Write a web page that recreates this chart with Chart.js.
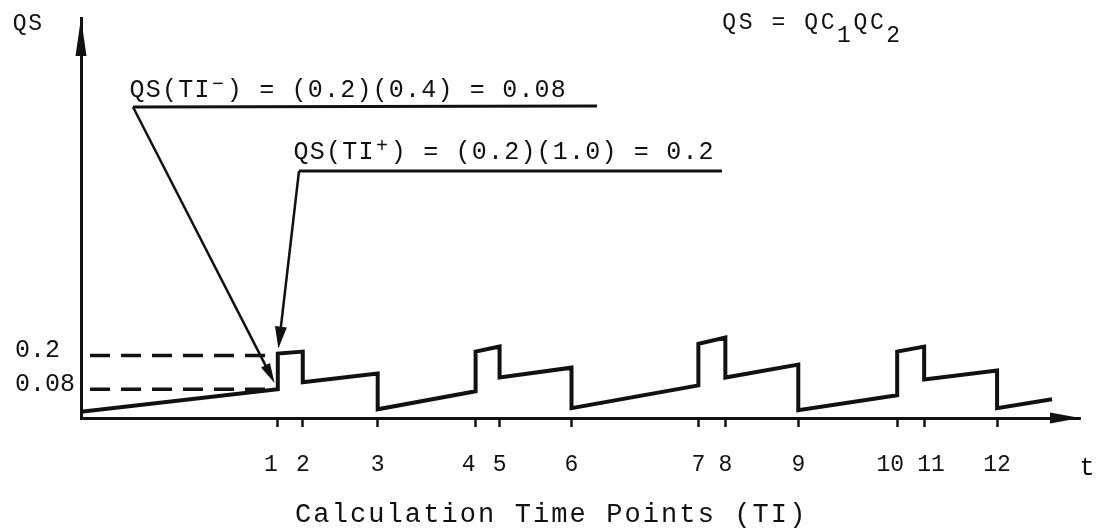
<!DOCTYPE html>
<html>
<head>
<meta charset="utf-8">
<title>QS at calculation time points</title>
<script src="https://cdn.jsdelivr.net/npm/chart.js@4/dist/chart.umd.min.js"></script>
<style>
  html, body { margin: 0; padding: 0; background: #fff; }
</style>
</head>
<body>
<canvas id="qsChart" width="1109" height="529"></canvas>
<script>
// calculation time points TI along t
var tiTimes = [1.97, 2.22, 2.97, 3.95, 4.19, 4.91, 6.18, 6.45, 7.18, 8.17, 8.44, 9.17];
// typed labels: a space keeps close pairs apart
var tiLabels = ['1 ', '2', '3', '4 ', '5', '6', '7', '8', '9', '10 ', ' 11', '12'];

// QS trace: ramps between time points, steps up / down at each TI
var qsT = [0, 1.97, 1.97, 2.22, 2.22, 2.97, 2.97, 3.95, 3.95, 4.19, 4.19, 4.91, 4.91,
  6.18, 6.18, 6.45, 6.45, 7.18, 7.18, 8.17, 8.17, 8.44, 8.44, 9.17, 9.17, 9.72];
var qsValues = [0, 0.08, 0.207, 0.214, 0.105, 0.136, 0.009, 0.073, 0.214, 0.232, 0.122, 0.157, 0.013,
  0.094, 0.242, 0.264, 0.122, 0.168, 0.006, 0.059, 0.214, 0.232, 0.115, 0.147, 0.013, 0.045];

// levels marked on the QS axis
var yTicks = [0.08, 0.2];
var yTickLabels = ['0.08', '0.2'];

var ink = '#111';
var mono = "'Liberation Mono', 'DejaVu Sans Mono', monospace";

var wave = qsT.map(function (t, i) { return { x: t, y: qsValues[i] }; });
// dashed guides from the axis over to TI 1
var guides = yTicks.map(function (v) {
  return [{ x: 0.09, y: v }, { x: tiTimes[0] - 0.08, y: v }];
});

// typewriter style text: one character per fixed cell
function typeText(ctx, parts, x, baseline, size, pitch) {
  var cell = 0;
  ctx.textAlign = 'center';
  ctx.textBaseline = 'alphabetic';
  parts.forEach(function (p) {
    var txt = p[0], mode = p[1];
    var fs = mode === 'sup' ? Math.round(size * 0.8) : size;
    var dy = mode === 'sup' ? -7 : (mode === 'sub' ? 13 : 0);
    ctx.font = fs + 'px ' + mono;
    for (var i = 0; i < txt.length; i++) {
      if (txt[i] !== ' ') ctx.fillText(txt[i], x + (cell + 0.5) * pitch, baseline + dy);
      cell++;
    }
  });
}

function arrowHead(ctx, fx, fy, tx, ty, len, half) {
  var a = Math.atan2(ty - fy, tx - fx);
  var bx = tx - Math.cos(a) * len, by = ty - Math.sin(a) * len;
  ctx.beginPath();
  ctx.moveTo(tx, ty);
  ctx.lineTo(bx + Math.sin(a) * half, by - Math.cos(a) * half);
  ctx.lineTo(bx - Math.sin(a) * half, by + Math.cos(a) * half);
  ctx.closePath();
  ctx.fill();
}

// leader from an underline start to just short of a trace point
function leader(ctx, sx, sy, px, py, back, len, half) {
  var dx = px - sx, dy = py - sy, d = Math.sqrt(dx * dx + dy * dy);
  var tx = px - dx / d * back, ty = py - dy / d * back;
  ctx.lineWidth = 2.5;
  ctx.beginPath();
  ctx.moveTo(sx, sy);
  ctx.lineTo(tx - dx / d * (len - 2), ty - dy / d * (len - 2));
  ctx.stroke();
  arrowHead(ctx, sx, sy, tx, ty, len, half);
}

var sketchNotes = {
  id: 'sketchNotes',
  afterDraw: function (chart) {
    var ctx = chart.ctx, area = chart.chartArea;
    var xs = chart.scales.x, ys = chart.scales.y;
    ctx.save();
    ctx.fillStyle = ink;
    ctx.strokeStyle = ink;
    ctx.lineCap = 'butt';

    // axis arrows
    arrowHead(ctx, area.left, area.bottom, area.left, area.top, 38, 5.5);
    arrowHead(ctx, area.left, area.bottom, area.right, area.bottom, 30, 5.5);

    // axis names
    typeText(ctx, [['QS']], 12, 30, 23, 15.5);
    typeText(ctx, [['t']], 1078, 475, 25, 18);
    typeText(ctx, [['Calculation Time Points (TI)']], 294, 522, 27, 18.3);

    // defining relation
    typeText(ctx, [['QS = QC'], ['1', 'sub'], ['QC'], ['2', 'sub']], 721, 29, 23, 16.4);

    // QS just before TI 1
    typeText(ctx, [['QS(TI'], ['\u2212', 'sup'], [') = (0.2)(0.4) = 0.08']], 129, 97, 25, 16.2);
    ctx.lineWidth = 3;
    ctx.beginPath(); ctx.moveTo(133, 107); ctx.lineTo(597, 106); ctx.stroke();
    leader(ctx, 133, 107, xs.getPixelForValue(qsT[1]), ys.getPixelForValue(qsValues[1]), 7, 20, 5);

    // QS just after TI 1
    typeText(ctx, [['QS(TI'], ['+', 'sup'], [') = (0.2)(1.0) = 0.2']], 293, 159, 25, 16.2);
    ctx.lineWidth = 3;
    ctx.beginPath(); ctx.moveTo(299, 171); ctx.lineTo(722, 171); ctx.stroke();
    leader(ctx, 299, 171, xs.getPixelForValue(qsT[2]), ys.getPixelForValue(qsValues[2]), 5, 22, 6);

    ctx.restore();
  }
};

var guideStyle = {
  showLine: true, borderColor: ink, borderWidth: 3.5, borderDash: [20, 11],
  pointRadius: 0, fill: false
};

new Chart(document.getElementById('qsChart'), {
  type: 'scatter',
  data: {
    datasets: [
      Object.assign({ data: guides[0] }, guideStyle),
      Object.assign({ data: guides[1] }, guideStyle),
      {
        data: wave, showLine: true, borderColor: ink, borderWidth: 4,
        pointRadius: 0, tension: 0, fill: false, borderJoinStyle: 'miter'
      }
    ]
  },
  options: {
    responsive: false,
    animation: false,
    devicePixelRatio: 1,
    layout: { padding: { left: 15, top: 15, right: 29, bottom: 0 } },
    plugins: { legend: { display: false }, tooltip: { enabled: false } },
    scales: {
      x: {
        type: 'linear', min: 0, max: 10,
        afterBuildTicks: function (scale) {
          scale.ticks = tiTimes.map(function (v) { return { value: v }; });
        },
        afterFit: function (scale) { scale.height = 111; },
        grid: { drawOnChartArea: false, drawTicks: true, tickLength: 9, tickWidth: 2.5, tickColor: ink },
        border: { display: true, color: ink, width: 3 },
        ticks: {
          autoSkip: false, maxRotation: 0, padding: 24, color: ink,
          font: { family: mono, size: 23 },
          callback: function (v, i) { return tiLabels[i]; }
        }
      },
      y: {
        type: 'linear', min: -0.022, max: 1.4,
        afterBuildTicks: function (scale) {
          scale.ticks = yTicks.map(function (v) { return { value: v }; });
        },
        afterFit: function (scale) { scale.width = 66; },
        grid: { drawOnChartArea: false, drawTicks: false },
        border: { display: true, color: ink, width: 3 },
        ticks: {
          crossAlign: 'far', labelOffset: -5, color: ink,
          font: { family: mono, size: 25 },
          callback: function (v, i) { return yTickLabels[i]; }
        }
      }
    }
  },
  plugins: [sketchNotes]
});
</script>
</body>
</html>
